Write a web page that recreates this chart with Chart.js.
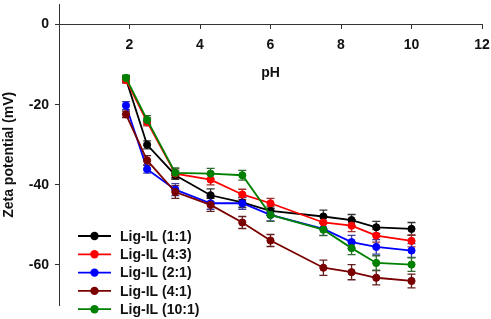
<!DOCTYPE html>
<html>
<head>
<meta charset="utf-8">
<script src="https://cdn.jsdelivr.net/npm/chart.js@4.4.1/dist/chart.umd.min.js"></script>
<style>
  html, body { margin: 0; padding: 0; background: #fff; }
  #wrap { width: 491px; height: 319px; }
</style>
</head>
<body>
<div id="wrap"><canvas id="zetaChart" width="491" height="319"></canvas></div>
<script>
// pH at which zeta potential was measured
const phValues = [1.9, 2.5, 3.3, 4.3, 5.2, 6.0, 7.5, 8.3, 9.0, 10.0];

const seriesNames = ["Lig-IL (1:1)", "Lig-IL (4:3)", "Lig-IL (2:1)", "Lig-IL (4:1)", "Lig-IL (10:1)"];

// zeta potential (mV)
const zeta11 = [-13.6, -30.0, -37.6, -42.6, -44.4, -46.5, -47.9, -48.8, -50.6, -51.0];
const zeta43 = [-13.8, -24.3, -37.2, -38.7, -42.4, -44.6, -49.4, -50.2, -52.7, -54.0];
const zeta21 = [-20.2, -36.1, -41.2, -44.6, -44.6, -47.5, -51.0, -54.3, -55.5, -56.4];
const zeta41 = [-22.4, -33.9, -41.8, -45.0, -49.4, -53.9, -60.7, -61.8, -63.2, -64.0];
const zeta101 = [-13.3, -23.8, -37.0, -37.2, -37.6, -47.5, -51.2, -55.8, -59.5, -59.9];

// error bars (+/- mV)
const err11 = [0.8, 1.0, 1.0, 1.6, 1.2, 1.2, 1.6, 1.4, 1.5, 1.6];
const err43 = [0.8, 1.0, 1.2, 1.3, 1.3, 1.2, 1.6, 1.5, 1.6, 1.5];
const err21 = [1.0, 1.0, 1.5, 1.5, 1.5, 1.5, 1.6, 1.7, 1.8, 1.7];
const err41 = [0.8, 1.2, 1.6, 1.6, 1.5, 1.5, 1.9, 1.9, 1.8, 1.7];
const err101 = [0.7, 1.1, 1.2, 1.3, 1.2, 1.6, 1.5, 1.6, 1.8, 1.7];

const xTicks = [2, 4, 6, 8, 10, 12];
const yTicks = [-60, -40, -20, 0];

const lineColors = ["#000000", "#ff0000", "#0000ff", "#7a0000", "#008000"];
const errColors = ["#333333", "#a03030", "#4040a0", "#602020", "#306a30"];

const allZeta = [zeta11, zeta43, zeta21, zeta41, zeta101];
const allErr = [err11, err43, err21, err41, err101];
// draw order: green on top, black at the bottom
const drawOrder = [4, 2, 3, 1, 0];

const textColor = "#111111";
const fontFamily = "'Liberation Sans', Arial, sans-serif";

const datasets = seriesNames.map((name, i) => ({
    label: name,
    data: phValues.map((p, j) => ({ x: p, y: allZeta[i][j] })),
    errors: allErr[i],
    errorColor: errColors[i],
    borderColor: lineColors[i],
    backgroundColor: lineColors[i],
    borderWidth: 1.8,
    pointRadius: 3.6,
    pointBorderWidth: 1,
    pointHoverRadius: 3.6,
    showLine: true,
    tension: 0,
    order: drawOrder[i]
}));

// vertical error bars with caps
const errorBars = {
    id: "errorBars",
    beforeDatasetsDraw(chart) {
        const ctx = chart.ctx;
        const yScale = chart.scales.y;
        const cap = 4;
        chart.data.datasets.forEach((ds, i) => {
            const meta = chart.getDatasetMeta(i);
            ctx.save();
            ctx.strokeStyle = ds.errorColor;
            ctx.lineWidth = 1.3;
            meta.data.forEach((pt, j) => {
                const v = ds.data[j].y;
                const e = ds.errors[j];
                const top = yScale.getPixelForValue(v + e);
                const bot = yScale.getPixelForValue(v - e);
                ctx.beginPath();
                ctx.moveTo(pt.x, top);
                ctx.lineTo(pt.x, bot);
                ctx.moveTo(pt.x - cap, top);
                ctx.lineTo(pt.x + cap, top);
                ctx.moveTo(pt.x - cap, bot);
                ctx.lineTo(pt.x + cap, bot);
                ctx.stroke();
            });
            ctx.restore();
        });
    }
};

// legend inside the plot, lower left
const insideLegend = {
    id: "insideLegend",
    afterDraw(chart) {
        const ctx = chart.ctx;
        const x0 = 78, x1 = 111, y0 = 236, step = 18.3;
        ctx.save();
        ctx.font = "bold 14px " + fontFamily;
        ctx.textBaseline = "middle";
        ctx.textAlign = "left";
        seriesNames.forEach((name, i) => {
            const y = y0 + i * step;
            ctx.strokeStyle = lineColors[i];
            ctx.lineWidth = 1.8;
            ctx.beginPath();
            ctx.moveTo(x0, y);
            ctx.lineTo(x1, y);
            ctx.stroke();
            ctx.fillStyle = lineColors[i];
            ctx.beginPath();
            ctx.arc((x0 + x1) / 2, y, 4.2, 0, Math.PI * 2);
            ctx.fill();
            ctx.fillStyle = textColor;
            ctx.fillText(name, 120, y + 1);
        });
        ctx.restore();
    }
};

const ctx = document.getElementById("zetaChart").getContext("2d");
new Chart(ctx, {
    type: "scatter",
    data: { datasets: datasets },
    options: {
        responsive: false,
        animation: false,
        devicePixelRatio: 1,
        layout: { padding: { left: 0, right: 9, top: 3, bottom: 14 } },
        plugins: {
            legend: { display: false },
            tooltip: { enabled: false }
        },
        scales: {
            x: {
                type: "linear",
                position: { y: 0 },
                min: 0,
                max: 12,
                afterBuildTicks: (s) => { s.ticks = xTicks.map(v => ({ value: v })); },
                afterFit: (s) => { s.paddingLeft = 0; s.paddingRight = 0; },
                grid: { drawOnChartArea: false, tickLength: 4, color: "#333333" },
                border: { color: "#333333", width: 1 },
                ticks: {
                    padding: 8,
                    color: textColor,
                    font: { family: fontFamily, size: 14, weight: "bold" }
                },
                title: {
                    display: true,
                    text: "pH",
                    color: textColor,
                    padding: { top: 3, bottom: 0 },
                    font: { family: fontFamily, size: 14, weight: "bold" }
                }
            },
            y: {
                type: "linear",
                position: "left",
                min: -70,
                max: 5,
                afterBuildTicks: (s) => { s.ticks = yTicks.map(v => ({ value: v })); },
                afterFit: (s) => { s.width = 59; s.paddingTop = 0; s.paddingBottom = 0; },
                grid: { drawOnChartArea: false, tickLength: 4, color: "#333333" },
                border: { color: "#333333", width: 1 },
                ticks: {
                    padding: 6,
                    color: textColor,
                    font: { family: fontFamily, size: 14, weight: "bold" }
                },
                title: {
                    display: true,
                    text: "Zeta potential (mV)",
                    color: textColor,
                    padding: { top: 1, bottom: 0 },
                    font: { family: fontFamily, size: 14, weight: "bold" }
                }
            }
        }
    },
    plugins: [errorBars, insideLegend]
});
</script>
</body>
</html>
